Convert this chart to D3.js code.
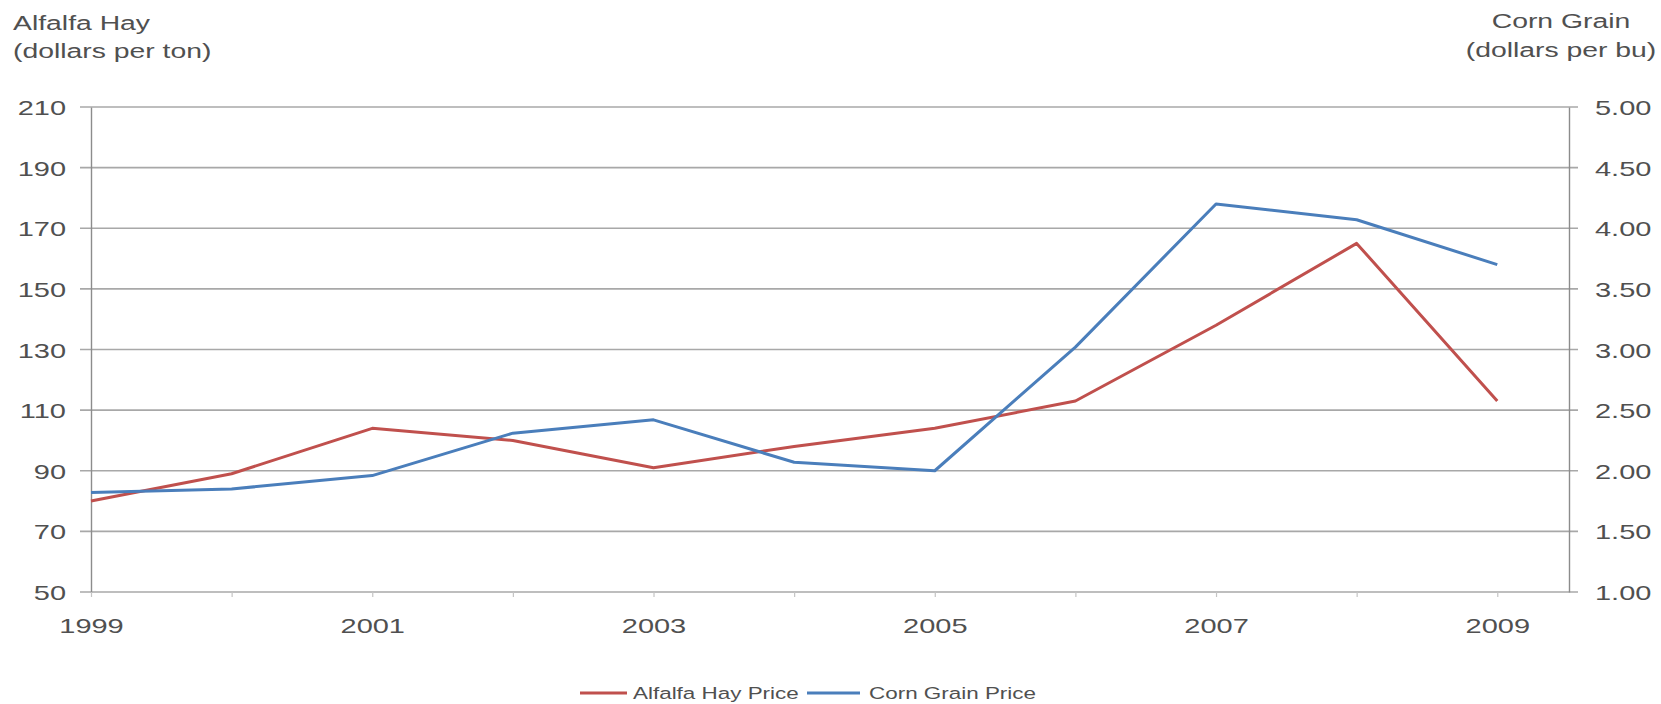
<!DOCTYPE html>
<html>
<head>
<meta charset="utf-8">
<script src="https://cdn.jsdelivr.net/npm/d3@7"></script>
<style>
  body { margin: 0; background: #fff; }
  svg { display: block; }
  text { font-family: "Liberation Sans", Arial, sans-serif; fill: #505050; }
</style>
</head>
<body>
<div id="chart-area"></div>
<script>
// data
const years = [1999, 2000, 2001, 2002, 2003, 2004, 2005, 2006, 2007, 2008, 2009];
const alfalfaPrice = [80, 89, 104, 100, 91, 98, 104, 113, 138, 165, 113];
const cornPrice = [1.82, 1.85, 1.96, 2.31, 2.42, 2.07, 2.00, 3.02, 4.20, 4.07, 3.70];
const leftTicks = [50, 70, 90, 110, 130, 150, 170, 190, 210];
const rightTicks = [1.00, 1.50, 2.00, 2.50, 3.00, 3.50, 4.00, 4.50, 5.00];
const seriesNames = ["Alfalfa Hay Price", "Corn Grain Price"];
const colours = ["#c0504d", "#4a7ebb"];

const width = 1661;
const height = 704;
const plot = { left: 91, right: 1569, top: 107, bottom: 592 };
const stretch = 1.38; // the original text is drawn wide

const svg = d3.select("#chart-area")
    .append("svg")
    .attr("width", width)
    .attr("height", height);

const x = d3.scaleLinear().domain([1999, 2009.51]).range([plot.left, plot.right]);
const yL = d3.scaleLinear().domain([50, 210]).range([plot.bottom, plot.top]);
const yR = d3.scaleLinear().domain([1, 5]).range([plot.bottom, plot.top]);

/** Gridlines */
svg.append("g")
    .attr("class", "grid")
    .selectAll("line")
    .data(leftTicks)
    .enter()
    .append("line")
    .attr("x1", plot.left - 11)
    .attr("x2", plot.right + 9)
    .attr("y1", d => yL(d))
    .attr("y2", d => yL(d))
    .attr("stroke", "#a8a8a8")
    .attr("stroke-width", 1.6);

/** Axes */
const leftAxis = d3.axisLeft(yL).tickValues(leftTicks).tickSize(0).tickFormat(d3.format("d"));
const gl = svg.append("g").attr("transform", "translate(" + plot.left + ",0)").call(leftAxis);
gl.select(".domain").attr("stroke", "#8c8c8c").attr("stroke-width", 1.4);
gl.selectAll("text")
    .attr("x", null)
    .attr("dy", "0.36em")
    .attr("font-size", "21px")
    .attr("text-anchor", "end")
    .attr("transform", "translate(-25,0) scale(" + stretch + ",1)");

const rightAxis = d3.axisRight(yR).tickValues(rightTicks).tickSize(0).tickFormat(d3.format(".2f"));
const gr = svg.append("g").attr("transform", "translate(" + plot.right + ",0)").call(rightAxis);
gr.select(".domain").attr("stroke", "#8c8c8c").attr("stroke-width", 1.4);
gr.selectAll("text")
    .attr("x", null)
    .attr("dy", "0.36em")
    .attr("font-size", "21px")
    .attr("text-anchor", "start")
    .attr("transform", "translate(26,0) scale(" + stretch + ",1)");

const bottomAxis = d3.axisBottom(x)
    .tickValues(years)
    .tickSize(5)
    .tickFormat(d => (d % 2 === 1 ? d : ""));
const gb = svg.append("g").attr("transform", "translate(0," + plot.bottom + ")").call(bottomAxis);
gb.select(".domain").remove();
gb.selectAll("line").attr("stroke", "#c4c4c4").attr("stroke-width", 1.2);
gb.selectAll("text")
    .attr("y", null)
    .attr("dy", null)
    .attr("font-size", "21px")
    .attr("text-anchor", "middle")
    .attr("transform", "translate(0,41) scale(" + stretch + ",1)");

/** Axis titles */
const titleL = svg.append("text")
    .attr("font-size", "21px")
    .attr("transform", "translate(13,0) scale(1.35,1)");
titleL.append("tspan").attr("x", 0).attr("y", 30).text("Alfalfa Hay");
titleL.append("tspan").attr("x", 0).attr("y", 58).text("(dollars per ton)");

const titleR = svg.append("text")
    .attr("font-size", "21px")
    .attr("text-anchor", "middle")
    .attr("transform", "translate(1561,0) scale(1.35,1)");
titleR.append("tspan").attr("x", 0).attr("y", 28).text("Corn Grain");
titleR.append("tspan").attr("x", 0).attr("y", 57).text("(dollars per bu)");

/** Data Render */
const lineL = d3.line().x((d, i) => x(years[i])).y(d => yL(d));
const lineR = d3.line().x((d, i) => x(years[i])).y(d => yR(d));

svg.append("path")
    .datum(alfalfaPrice)
    .attr("d", lineL)
    .attr("fill", "none")
    .attr("stroke", colours[0])
    .attr("stroke-width", 3)
    .attr("stroke-linejoin", "round");

svg.append("path")
    .datum(cornPrice)
    .attr("d", lineR)
    .attr("fill", "none")
    .attr("stroke", colours[1])
    .attr("stroke-width", 3)
    .attr("stroke-linejoin", "round");

/** Legend */
const legendX = [580, 807];
const legend = svg.selectAll(".legend")
    .data(seriesNames)
    .enter()
    .append("g")
    .attr("class", "legend")
    .attr("transform", (d, i) => "translate(" + legendX[i] + ",693)");

legend.append("line")
    .attr("x1", 0)
    .attr("x2", (d, i) => (i === 0 ? 47 : 53))
    .attr("stroke", (d, i) => colours[i])
    .attr("stroke-width", 3);

legend.append("text")
    .attr("font-size", "17px")
    .attr("dy", "0.36em")
    .attr("transform", (d, i) => "translate(" + (i === 0 ? 53 : 62) + ",0) scale(1.32,1)")
    .text(d => d);
</script>
</body>
</html>
